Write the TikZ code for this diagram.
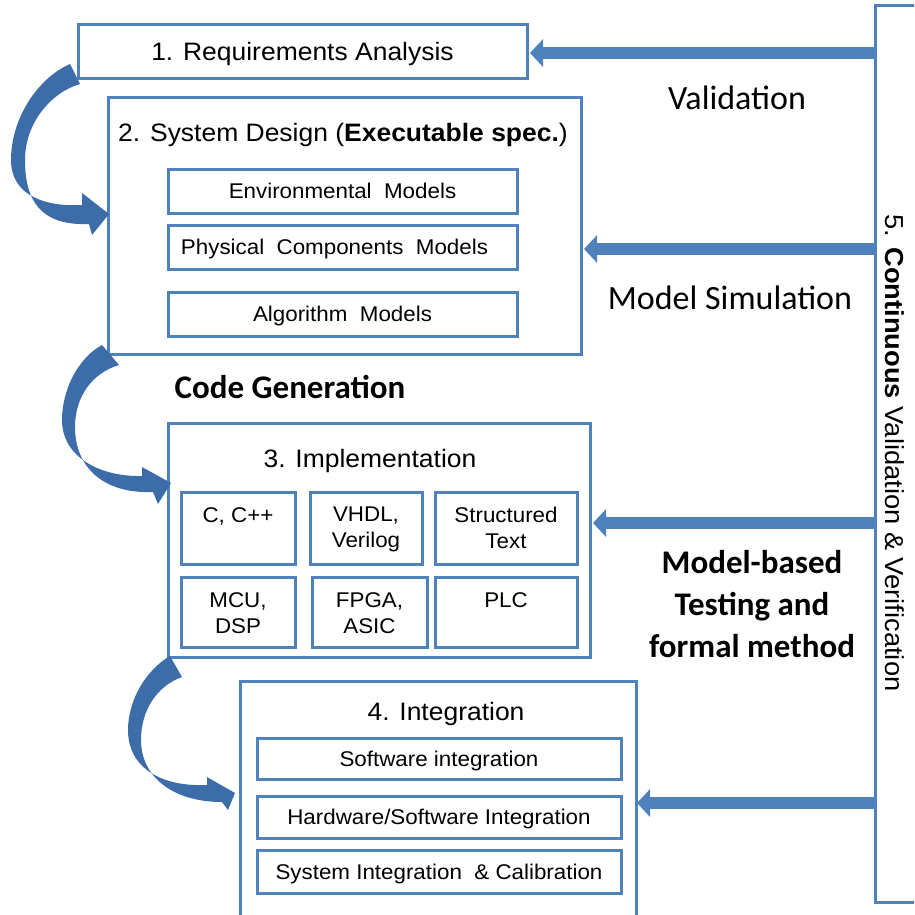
\documentclass[tikz,border=0pt]{standalone}
\usepackage{fontspec}
\setmainfont{Liberation Sans}[FakeStretch=1.05]
\newfontfamily\calfont{Carlito}
\usetikzlibrary{arrows.meta}
\definecolor{ofblue}{HTML}{4F81BD}
\definecolor{arrblue}{HTML}{3D6DA8}

\begin{document}
\begin{tikzpicture}[x=1pt,y=-1pt,
  box/.style={draw=ofblue, line width=3pt, fill=white, inner sep=0pt},
  ttl/.style={font=\fontsize{25.2}{29}\selectfont, inner sep=0pt, text height=18pt, text depth=0pt},
  item/.style={box, font=\fontsize{21.3}{25}\selectfont, text height=15.3pt, text depth=0pt},
  celltext/.style={font=\fontsize{21.3}{26}\selectfont, align=center, inner sep=0pt, anchor=north},
  lbl/.style={font=\calfont\fontsize{34}{40}\selectfont, inner sep=0pt},
  blbl/.style={font=\calfont\bfseries\fontsize{33}{42}\selectfont, inner sep=0pt, align=center},
  feed/.style={draw=ofblue, line width=12pt, -{Triangle[width=27pt,length=13pt]}},
  phasearrow/.style={fill=arrblue, draw=none}]

\useasboundingbox (0,0) rectangle (914,915);
\clip (0,0) rectangle (914,915);

% ---- 5. continuous V&V bar ----
\node[box, minimum width=60, minimum height=896] (vv) at (905,454) {};
\node[font=\fontsize{26}{30}\selectfont, rotate=-90, inner sep=0pt] (vvtxt) at (895,453)
  {5. \textbf{Continuous} Validation \& Verification};

% ---- 1. requirements ----
\node[box, minimum width=449, minimum height=54] (req) at (302.5,52) {};
\node[ttl] (reqtxt) at (302.5,52) {1. Requirements Analysis};

% ---- 2. system design ----
\node[box, minimum width=473, minimum height=256] (sys) at (344.5,226) {};
\node[ttl] (systxt) at (343,133) {2. System Design (\textbf{Executable spec.})};
\node[item, minimum width=349, minimum height=44] (env) at (342.5,191) {Environmental\ \ Models};
\node[item, minimum width=349, minimum height=44] (phy) at (342.5,247) {\hspace{-16pt}Physical\ \ Components\ \ Models};
\node[item, minimum width=349, minimum height=44] (alg) at (342.5,314) {Algorithm\ \ Models};

% ---- 3. implementation ----
\node[box, minimum width=422, minimum height=234] (impl) at (379,540) {};
\node[ttl] (impltxt) at (370,458) {3. Implementation};
\node[box, minimum width=114, minimum height=72] (c1) at (238,528) {};
\node[box, minimum width=112, minimum height=72] (c2) at (366,528) {};
\node[box, minimum width=142, minimum height=72] (c3) at (506,528) {};
\node[box, minimum width=114, minimum height=70] (c4) at (238,612) {};
\node[box, minimum width=115, minimum height=70] (c5) at (369.5,612) {};
\node[box, minimum width=142, minimum height=70] (c6) at (506,612) {};
\node[celltext] (c1t) at (238,507) {C, C++};
\node[celltext] (c2t) at (366,507) {VHDL,\\Verilog};
\node[celltext] (c3t) at (506,507) {Structured\\Text};
\node[celltext] (c4t) at (238,592) {MCU,\\DSP};
\node[celltext] (c5t) at (369.5,592) {FPGA,\\ASIC};
\node[celltext] (c6t) at (506,592) {PLC};

% ---- 4. integration ----
\node[box, minimum width=396, minimum height=270] (integ) at (438,816) {};
\node[ttl] (integtxt) at (446,711) {4. Integration};
\node[item, minimum width=364, minimum height=41] (swi) at (439,758.5) {Software integration};
\node[item, minimum width=364, minimum height=42] (hwi) at (439,817) {Hardware/Software Integration};
\node[item, minimum width=364, minimum height=43] (sii) at (439,871.5) {System Integration\ \ \& Calibration};

% ---- feedback arrows from the V&V bar ----
\coordinate (t1) at (530,53);
\coordinate (t2) at (584,249);
\coordinate (t3) at (593,523);
\coordinate (t4) at (637,803);
\draw[feed] (vv.west |- t1) -- (t1);
\draw[feed] (vv.west |- t2) -- (t2);
\draw[feed] (vv.west |- t3) -- (t3);
\draw[feed] (vv.west |- t4) -- (t4);

% ---- labels ----
\node[lbl] (lval) at (737,98) {Validation};
\node[lbl] (lsim) at (730,298) {Model Simulation};
\node[blbl] (lgen) at (290,387) {Code Generation};
\node[blbl] (ltest) at (752,604) {Model-based\\Testing and\\formal method};

% ---- curved block arrows between phases ----
\fill[phasearrow] (70,64) .. controls (38,78) and (11,118) .. (11,160)
  .. controls (11,197) and (48,207) .. (82,205) -- (82,193) -- (109,214) -- (92,235) -- (89,224)
  .. controls (40,226) and (25,200) .. (25,160)
  .. controls (25,122) and (52,92) .. (80,84) -- cycle;
\fill[phasearrow] (102,345) .. controls (78,358) and (62,390) .. (62,420)
  .. controls (62,457) and (100,477) .. (142,476) -- (142,467) -- (171,483) -- (158,504) -- (153,492)
  .. controls (103,494) and (75,467) .. (75,427)
  .. controls (75,397) and (92,373) .. (119,365) -- cycle;
\fill[phasearrow] (170,656) .. controls (146,670) and (128,700) .. (128,730)
  .. controls (128,767) and (160,787) .. (207,785) -- (207,777) -- (235,793) -- (228,810) -- (222,802)
  .. controls (173,802) and (141,777) .. (141,740)
  .. controls (141,710) and (157,686) .. (182,677) -- cycle;
\end{tikzpicture}
\end{document}
